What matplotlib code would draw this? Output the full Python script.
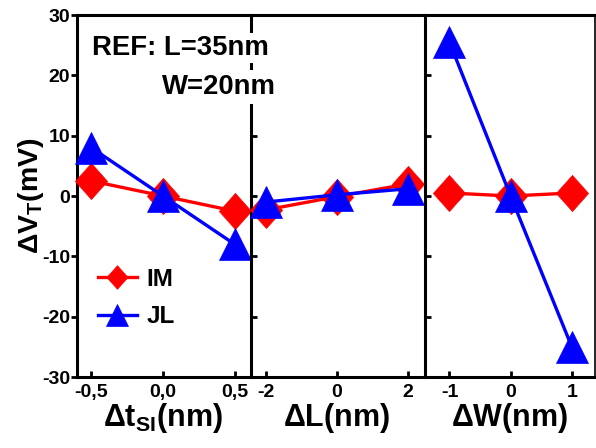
import matplotlib
matplotlib.use("Agg")
import matplotlib.pyplot as plt

plt.rcParams['font.family'] = ['Liberation Sans', 'DejaVu Sans']
plt.rcParams['font.weight'] = 'bold'
plt.rcParams['mathtext.fontset'] = 'custom'
plt.rcParams['mathtext.rm'] = 'Liberation Sans:bold'
plt.rcParams['mathtext.it'] = 'Liberation Sans:bold'
plt.rcParams['mathtext.bf'] = 'Liberation Sans:bold'
plt.rcParams['mathtext.default'] = 'bf'

# data
x_tsi = [-0.5, 0.0, 0.5]
im_tsi = [2.5, 0.0, -2.5]
jl_tsi = [8.0, 0.0, -8.0]
tsi_ticks = [-0.5, 0.0, 0.5]
tsi_ticklabels = ["-0,5", "0,0", "0,5"]

x_L = [-2, 0, 2]
im_L = [-2.3, -0.1, 2.0]
jl_L = [-1.0, 0.2, 1.2]
L_ticks = [-2, 0, 2]
L_ticklabels = ["-2", "0", "2"]

x_W = [-1, 0, 1]
im_W = [0.5, 0.0, 0.5]
jl_W = [25.5, 0.0, -25.0]
W_ticks = [-1, 0, 1]
W_ticklabels = ["-1", "0", "1"]

yticks = [-30, -20, -10, 0, 10, 20, 30]

RED = '#ff0000'
BLUE = '#0000ff'
# slightly tall diamond marker shape
DIAMOND = [(0, 1.12), (1, 0), (0, -1.12), (-1, 0), (0, 1.12)]

fig = plt.figure(figsize=(5.96, 4.48), dpi=100)
W, H = 596, 448
bottom = (H - 377) / H
height = 362 / H
ax1 = fig.add_axes([77 / W, bottom, 172 / W, height])
ax2 = fig.add_axes([251 / W, bottom, 172 / W, height])
ax3 = fig.add_axes([425 / W, bottom, 170 / W, height])

panels = [
    (ax1, x_tsi, im_tsi, jl_tsi, tsi_ticks, tsi_ticklabels, (-0.6, 0.6), r"$\Delta t_{SI}(nm)$"),
    (ax2, x_L, im_L, jl_L, L_ticks, L_ticklabels, (-2.42, 2.42), r"$\Delta L(nm)$"),
    (ax3, x_W, im_W, jl_W, W_ticks, W_ticklabels, (-1.4, 1.38), r"$\Delta W(nm)$"),
]

for i, (ax, x, im, jl, xt, xtl, xl, xlabel) in enumerate(panels):
    ax.plot(x, im, color=RED, lw=2.4, marker=DIAMOND, ms=26, mec=RED, mfc=RED, mew=0.5,
            label='IM', clip_on=False, zorder=3)
    ax.plot(x, jl, color=BLUE, lw=2.4, marker='^', ms=23, mec=BLUE, mfc=BLUE, mew=0.5,
            label='JL', clip_on=False, zorder=4)
    ax.set_xlim(*xl)
    ax.set_ylim(-30, 30)
    ax.set_xticks(xt)
    ax.set_xticklabels(xtl)
    ax.set_yticks(yticks)
    for s in ax.spines.values():
        s.set_linewidth(2.2)
    ax.tick_params(axis='x', direction='in', length=4, width=2, labelsize=14, pad=5)
    if i == 0:
        ax.tick_params(axis='y', direction='out', length=4, width=2, labelsize=14, pad=1)
        ax.set_yticklabels([str(v) for v in yticks])
        ax.spines['right'].set_visible(False)
    else:
        ax.tick_params(axis='y', direction='in', length=4, width=2, labelleft=False)
        if i == 1:
            ax.spines['right'].set_visible(False)
    ax.set_xlabel(xlabel, fontsize=22, labelpad=0)
    for lab in ax.get_xticklabels() + ax.get_yticklabels():
        lab.set_fontweight('bold')

ax3.spines['right'].set_linewidth(1.2)

ax1.set_ylabel(r"$\Delta V_{T}(mV)$", fontsize=20.5, labelpad=-3)

leg = ax1.legend(loc='center left', bbox_to_anchor=(0.12, 0.218), frameon=False,
                 fontsize=17.5, handlelength=1.6, handletextpad=0.4,
                 labelspacing=0.6, borderpad=0, borderaxespad=0)
hs = leg.legend_handles
hs[0].set_markersize(17)
hs[1].set_markersize(16.5)

fig.text(92 / W, 1 - 48 / H, "REF: L=35nm", fontsize=19.8, fontweight='bold',
         ha='left', va='center', zorder=10,
         bbox=dict(facecolor='white', edgecolor='none', pad=1.5))
fig.text(162 / W, 1 - 87 / H, "W=20nm", fontsize=19.8, fontweight='bold',
         ha='left', va='center', zorder=10,
         bbox=dict(facecolor='white', edgecolor='none', pad=3))

fig.savefig("out.png", dpi=100)
